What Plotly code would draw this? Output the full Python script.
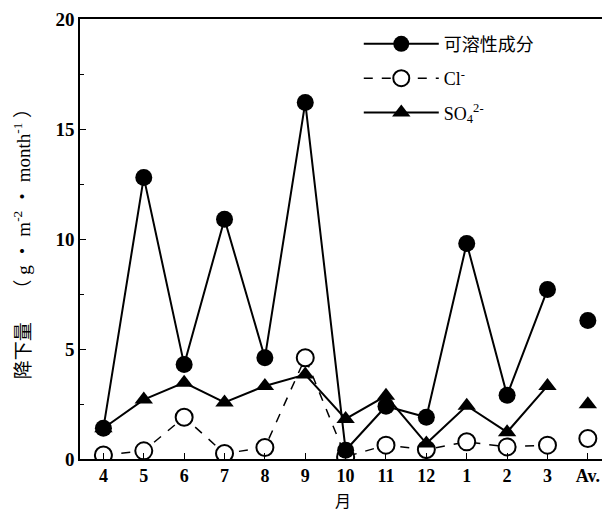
import plotly.graph_objects as go

months = ["4", "5", "6", "7", "8", "9", "10", "11", "12", "1", "2", "3", "Av."]
soluble = [1.4, 12.8, 4.3, 10.9, 4.6, 16.2, 0.4, 2.4, 1.9, 9.8, 2.9, 7.7, 6.3]
chloride = [0.18, 0.37, 1.9, 0.25, 0.52, 4.6, 0.1, 0.63, 0.43, 0.78, 0.55, 0.63, 0.93]
sulfate = [1.4, 2.7, 3.47, 2.57, 3.32, 3.84, 1.82, 2.87, 0.7, 2.42, 1.22, 3.32, 2.49]
y_ticks = [0, 5, 10, 15, 20]

series = [
    ("可溶性成分", soluble, "circle", "solid", 2, "black"),
    ("Cl<sup>-</sup>", chloride, "circle-open", "dash", 1.5, "black"),
    ("SO<sub>4</sub><sup>2-</sup>", sulfate, "triangle-up", "solid", 2, "black"),
]

fig = go.Figure()
order = [1, 2, 0]
for i in order:
    name, vals, sym, dash, lw, col = series[i]
    is_open = sym == "circle-open"
    marker = dict(symbol="circle" if is_open else sym, size=17 if sym != "triangle-up" else 16,
                  color="white" if is_open else "black",
                  line=dict(color="black", width=2 if is_open else 0))
    fig.add_trace(go.Scatter(
        x=months[:12], y=vals[:12], mode="lines+markers", name=name,
        line=dict(color=col, width=lw, dash=dash), marker=marker,
        legendrank=i + 1, legendgroup="g%d" % i,
    ))
    fig.add_trace(go.Scatter(
        x=months[12:], y=vals[12:], mode="markers", showlegend=False,
        marker=marker, legendgroup="g%d" % i,
    ))

fig.update_layout(
    width=610, height=519,
    margin=dict(l=72, r=12, t=11, b=68),
    paper_bgcolor="white", plot_bgcolor="white",
    font=dict(family="Liberation Serif", color="black"),
    showlegend=True,
    legend=dict(x=0.53, y=0.985, xanchor="left", yanchor="top",
                font=dict(family="Liberation Serif, Noto Sans CJK SC", size=18),
                bgcolor="rgba(0,0,0,0)", tracegroupgap=8, itemwidth=75),
)
fig.update_xaxes(
    type="category", categoryorder="array", categoryarray=months,
    tickvals=months, ticktext=["<b>%s</b>" % m for m in months],
    range=[-0.58, 12.45], automargin=False, ticklabeloverflow="allow",
    showline=True, linecolor="black", linewidth=1.5, mirror=True,
    ticks="inside", ticklen=6, tickcolor="black", tickwidth=1.2,
    showgrid=False, zeroline=False,
    tickfont=dict(family="Liberation Serif", size=18),
    title=dict(text="月", font=dict(family="Noto Sans CJK SC", size=16), standoff=10),
)
fig.update_yaxes(
    range=[0, 20], tickvals=y_ticks, ticktext=["<b>%d</b>" % v for v in y_ticks],
    automargin=False, ticklabeloverflow="allow",
    showline=True, linecolor="black", linewidth=1.5, mirror=True,
    ticks="inside", ticklen=6, tickcolor="black", tickwidth=1.2,
    minor=dict(dtick=2.5, ticks="inside", ticklen=4, tickcolor="black", showgrid=False),
    showgrid=False, zeroline=False,
    tickfont=dict(family="Liberation Serif", size=19),
    title=dict(text="降下量　 （ g ・ m<sup>-2</sup> ・ month<sup>-1</sup> ）",
               font=dict(family="Liberation Serif, Noto Sans CJK SC", size=19), standoff=20),
)

fig.write_html("out.html")
